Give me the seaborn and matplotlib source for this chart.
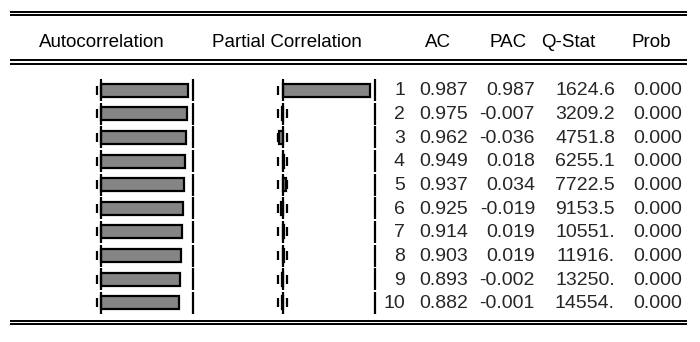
import numpy as np
import pandas as pd
import matplotlib
matplotlib.use("Agg")
import matplotlib.pyplot as plt
import matplotlib.transforms as mtransforms
import seaborn as sns

# ---------------- data ----------------
lags = [1, 2, 3, 4, 5, 6, 7, 8, 9, 10]
ac = [0.987, 0.975, 0.962, 0.949, 0.937, 0.925, 0.914, 0.903, 0.893, 0.882]
pac = [0.987, -0.007, -0.036, 0.018, 0.034, -0.019, 0.019, 0.019, -0.002, -0.001]
qstat = [1624.6, 3209.2, 4751.8, 6255.1, 7722.5, 9153.5, 10551.0, 11916.0, 13250.0, 14554.0]
prob = [0.000] * 10
conf_band = 0.049  # approx 2/sqrt(T)
headers = ["Autocorrelation", "Partial Correlation", "AC", "PAC", "Q-Stat", "Prob"]

df = pd.DataFrame({"lag": [str(l) for l in lags], "ac": ac, "pac": pac})

# ---------------- style ----------------
sns.set_theme(style="white")
plt.rcParams["font.family"] = ["Liberation Sans", "DejaVu Sans"]

W, H = 700, 342
fig = plt.figure(figsize=(W / 100, H / 100), dpi=100)
fig.patch.set_facecolor("white")

# overlay axes in pixel coordinates for rules and text
ax0 = fig.add_axes([0, 0, 1, 1])
ax0.set_xlim(0, W)
ax0.set_ylim(H, 0)
ax0.axis("off")

PX = 88.5           # pixels per correlation unit
ROW_TOP, ROW_BOT = 78.2, 314.8
XR = 1.045          # right boundary of bar panels (correlation units)


def make_panel(zero_px, col):
    left_px = zero_px - 13
    right_px = zero_px + XR * PX + 6
    ax = fig.add_axes([left_px / W, (H - ROW_BOT) / H,
                       (right_px - left_px) / W, (ROW_BOT - ROW_TOP) / H])
    sns.barplot(data=df, x=col, y="lag", orient="h", color="#858585",
                saturation=1, edgecolor="black", linewidth=1.6,
                width=0.55, ax=ax, zorder=3)
    ax.set_xlim((left_px - zero_px) / PX, (right_px - zero_px) / PX)
    ax.set_ylim(len(lags) - 0.5, -0.5)
    ax.axis("off")
    n = len(lags)
    pos = np.arange(n)
    # confidence dashes
    for c in (-conf_band, conf_band):
        ax.vlines([c] * n, pos - 0.19, pos + 0.19, color="black",
                  linewidth=1.6, zorder=2)
    # zero line and right boundary, drawn per row
    ax.vlines([0] * n, pos - 0.47, pos + 0.47, color="black",
              linewidth=1.6, zorder=4)
    ax.vlines([XR] * n, pos - 0.47, pos + 0.47, color="black",
              linewidth=1.6, zorder=4)
    return ax


ax_ac = make_panel(101, "ac")
ax_pac = make_panel(282.5, "pac")

# horizontal double rules
for y in (11.8, 15.2, 60.3, 63.6, 320.8, 324.2):
    ax0.hlines(y, 10, 687, color="black", linewidth=1.4)

# header
hfs = 13.5
fs = 14
hy = 42.5
header_x = [102, 287, 438, 508, 568, 651]
for txt, x in zip(headers, header_x):
    ax0.text(x, hy, txt, ha="center", va="center", fontsize=hfs, color="black")

# table values aligned with bar rows
trans = mtransforms.blended_transform_factory(ax0.transData, ax_pac.transData)


def fmt_q(v):
    return f"{v:.1f}" if v < 10000 else f"{v:.0f}."


for i in range(len(lags)):
    y = i + 0.04
    ax0.text(405, y, str(lags[i]), ha="right", va="center", fontsize=fs, transform=trans)
    ax0.text(468, y, f"{ac[i]:.3f}", ha="right", va="center", fontsize=fs, transform=trans)
    ax0.text(535, y, f"{pac[i]:.3f}", ha="right", va="center", fontsize=fs, transform=trans)
    ax0.text(615, y, fmt_q(qstat[i]), ha="right", va="center", fontsize=fs, transform=trans)
    ax0.text(682, y, f"{prob[i]:.3f}", ha="right", va="center", fontsize=fs, transform=trans)

fig.savefig("out.png", dpi=100, facecolor="white")
